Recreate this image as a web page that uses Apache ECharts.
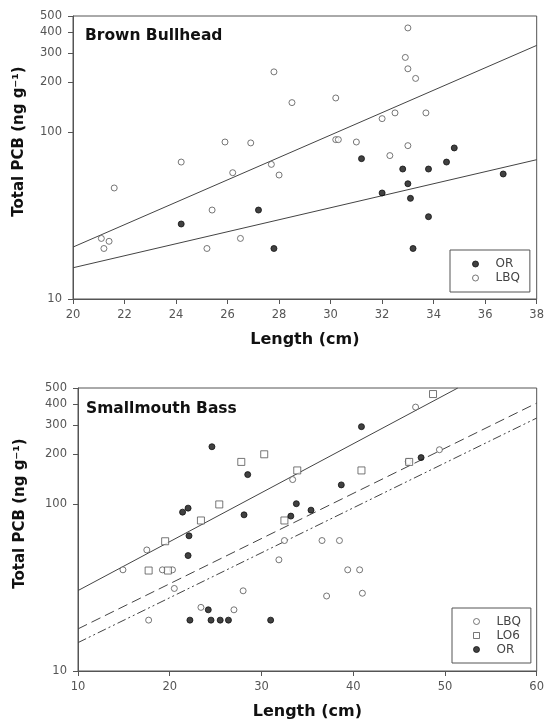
<!DOCTYPE html>
<html>
<head>
<meta charset="utf-8">
<title>Total PCB vs length</title>
<script src="https://cdn.jsdelivr.net/npm/echarts@6/dist/echarts.min.js"></script>
<style>
  html, body { margin: 0; padding: 0; background: #fff; }
  #pcb_chart { width: 547px; height: 721px; }
</style>
</head>
<body>
<div id="pcb_chart"></div>
<script>
// Brown Bullhead (top panel)
const bbLbqLength = [21.1, 21.2, 21.4, 21.6, 24.2, 25.2, 25.4, 25.9, 26.2, 26.5, 26.9, 27.7, 27.8, 28.0, 28.5, 30.2, 30.2, 30.3, 31.0, 32.0, 32.3, 32.5, 32.9, 33.0, 33.0, 33.0, 33.3, 33.7];
const bbLbqPcb = [23.1, 20.1, 22.2, 46.4, 66.4, 20.1, 34.2, 87.6, 57.3, 23.1, 86.5, 64.3, 231, 55.5, 151, 161, 90.5, 90.5, 87.6, 121, 72.6, 131, 282, 424, 241, 83.3, 211, 131];
const bbOrLength = [24.2, 27.2, 27.8, 31.2, 32.0, 32.8, 33.0, 33.1, 33.2, 33.8, 33.8, 34.5, 34.8, 36.7];
const bbOrPcb = [28.2, 34.2, 20.1, 69.6, 43.3, 60.3, 49.2, 40.2, 20.1, 60.3, 31.2, 66.4, 80.7, 56.3];
const bbFitLength = [20, 38];
const bbLbqFit = [20.5, 333];
const bbOrFit = [15.4, 68.6];

// Smallmouth Bass (bottom panel)
const smLbqLength = [14.9, 17.5, 17.7, 19.2, 20.3, 20.5, 23.4, 27.0, 28.0, 31.9, 32.5, 33.4, 36.6, 37.1, 38.5, 39.4, 40.7, 41.0, 46.0, 46.8, 49.4];
const smLbqPcb = [40.5, 53.3, 20.2, 40.5, 40.5, 31.3, 24.1, 23.3, 30.3, 46.5, 60.7, 141, 60.7, 28.2, 60.7, 40.5, 40.5, 29.3, 181, 384, 213];
const smLo6Length = [17.7, 19.5, 19.8, 23.4, 25.4, 27.8, 30.3, 32.5, 33.9, 40.9, 46.1, 48.7];
const smLo6Pcb = [40.1, 60.1, 40.1, 80.1, 100, 180, 200, 80.1, 160, 160, 180, 460];
const smOrLength = [21.4, 22.0, 22.1, 22.0, 22.2, 24.2, 24.5, 24.6, 25.5, 26.4, 28.1, 28.5, 31.0, 33.2, 33.8, 35.4, 38.7, 40.9, 47.4];
const smOrPcb = [89.9, 95, 64.8, 49.3, 20.2, 23.3, 20.2, 222, 20.2, 20.2, 86.6, 151, 20.2, 85.1, 101, 92.4, 131, 293, 191];
const smSolidFitLength = [10, 51.4];
const smSolidFit = [30.4, 500];
const smFitLength = [10, 60];
const smDashedFit = [17.9, 406];
const smDashDotFit = [14.8, 330];

// tick labels
const bbXTicks = [20, 22, 24, 26, 28, 30, 32, 34, 36, 38];
const smXTicks = [10, 20, 30, 40, 50, 60];
const pcbTicks = [10, 100, 200, 300, 400, 500];

const FONT = 'DejaVu Sans';
const AXIS = '#555';
const SQUARE = 'path://M0,0L10,0L10,10L0,10Z';

function zip (xs, ys) {
    return xs.map(function (x, i) { return [x, ys[i]]; });
}

function xAxisFor (gridIndex, min, max, interval) {
    return {
        gridIndex: gridIndex,
        type: 'value',
        min: min,
        max: max,
        interval: interval,
        name: 'Length (cm)',
        nameLocation: 'middle',
        nameGap: 33,
        nameTextStyle: { fontFamily: FONT, fontWeight: 'bold', fontSize: 16, color: '#111' },
        axisLine: { lineStyle: { color: AXIS, width: 1 } },
        axisTick: { length: 5, lineStyle: { color: AXIS } },
        axisLabel: { margin: 10, fontFamily: FONT, fontSize: 11.5, color: '#555' },
        splitLine: { show: false }
    };
}

function yAxisFor (gridIndex, nameGap) {
    return {
        gridIndex: gridIndex,
        type: 'log',
        logBase: 10,
        min: 10,
        max: 500,
        name: 'Total PCB (ng g⁻¹)',
        nameLocation: 'middle',
        nameGap: nameGap,
        // left padding pushes the rotated title up, as in the reference
        nameTextStyle: { fontFamily: FONT, fontWeight: 'bold', fontSize: 15, color: '#111', padding: [0, 0, 0, 32] },
        axisLine: { show: true, lineStyle: { color: AXIS, width: 1 } },
        axisTick: { show: true, length: 5, customValues: pcbTicks, lineStyle: { color: AXIS } },
        axisLabel: { margin: 11, fontFamily: FONT, fontSize: 11.5, color: '#555', customValues: pcbTicks },
        minorTick: { show: false },
        splitLine: { show: false }
    };
}

const openCircle = { color: '#fff', borderColor: '#555', borderWidth: 1 };
const filledCircle = { color: '#111', borderColor: '#111', borderWidth: 1 };
const openSquare = { color: '#fff', borderColor: '#555', borderWidth: 1 };

function scatter (name, idx, data, style, symbol, size) {
    return {
        name: name,
        type: 'scatter',
        xAxisIndex: idx,
        yAxisIndex: idx,
        data: data,
        symbol: symbol,
        symbolSize: size,
        itemStyle: style,
        z: 3
    };
}

function fitLine (name, idx, data, dash) {
    return {
        name: name,
        type: 'line',
        xAxisIndex: idx,
        yAxisIndex: idx,
        data: data,
        showSymbol: false,
        silent: true,
        clip: true,
        lineStyle: { color: '#444', width: 1, type: dash },
        z: 2
    };
}

function legendFor (left, top, names, vpad, lpad) {
    return {
        orient: 'vertical',
        align: 'left',
        left: left,
        top: top,
        padding: [vpad, 10, vpad, lpad],
        itemGap: 0,
        itemWidth: 6,
        itemHeight: 6,
        borderColor: AXIS,
        borderWidth: 1,
        selectedMode: false,
        textStyle: { fontFamily: FONT, fontSize: 12, color: '#444', lineHeight: 14, padding: [0, 0, 0, 12] },
        data: names.map(function (n) {
            if (n === 'LO6') {
                return { name: n, icon: SQUARE, itemStyle: openSquare };
            }
            return { name: n, icon: 'circle', itemStyle: n === 'OR' ? filledCircle : openCircle };
        })
    };
}

const chart = echarts.init(document.getElementById('pcb_chart'));
const option = {
    backgroundColor: '#fff',
    animation: false,
    title: [
        { text: 'Brown Bullhead', left: 85, top: 28, padding: 0,
          textStyle: { fontFamily: FONT, fontWeight: 'bold', fontSize: 15.5, color: '#111' } },
        { text: 'Smallmouth Bass', left: 86, top: 401, padding: 0,
          textStyle: { fontFamily: FONT, fontWeight: 'bold', fontSize: 15.5, color: '#111' } }
    ],
    grid: [
        { left: 73, top: 16, width: 464, height: 283, show: true, borderColor: AXIS, borderWidth: 1, containLabel: false },
        { left: 78, top: 388, width: 464, height: 283, show: true, borderColor: AXIS, borderWidth: 1, containLabel: false }
    ],
    xAxis: [
        xAxisFor(0, bbXTicks[0], bbXTicks[bbXTicks.length - 1], 2),
        xAxisFor(1, smXTicks[0], smXTicks[smXTicks.length - 1], 10)
    ],
    yAxis: [
        yAxisFor(0, 46),
        yAxisFor(1, 50)
    ],
    legend: [
        legendFor(450, 250, ['OR', 'LBQ'], 7, 22),
        legendFor(452, 608, ['LBQ', 'LO6', 'OR'], 6.5, 21)
    ],
    series: [
        scatter('OR', 0, zip(bbOrLength, bbOrPcb), filledCircle, 'circle', 6),
        scatter('LBQ', 0, zip(bbLbqLength, bbLbqPcb), openCircle, 'circle', 6),
        fitLine('LBQ fit', 0, zip(bbFitLength, bbLbqFit), 'solid'),
        fitLine('OR fit', 0, zip(bbFitLength, bbOrFit), 'solid'),

        scatter('LBQ', 1, zip(smLbqLength, smLbqPcb), openCircle, 'circle', 6),
        scatter('LO6', 1, zip(smLo6Length, smLo6Pcb), openSquare, SQUARE, 7),
        scatter('OR', 1, zip(smOrLength, smOrPcb), filledCircle, 'circle', 6),
        fitLine('Solid fit', 1, zip(smSolidFitLength, smSolidFit), 'solid'),
        fitLine('Dashed fit', 1, zip(smFitLength, smDashedFit), [10, 5]),
        fitLine('Dash-dot fit', 1, zip(smFitLength, smDashDotFit), [9, 3, 2, 3, 2, 3])
    ]
};
chart.setOption(option);

window.addEventListener('resize', function () {
    chart.resize();
});
</script>
</body>
</html>
